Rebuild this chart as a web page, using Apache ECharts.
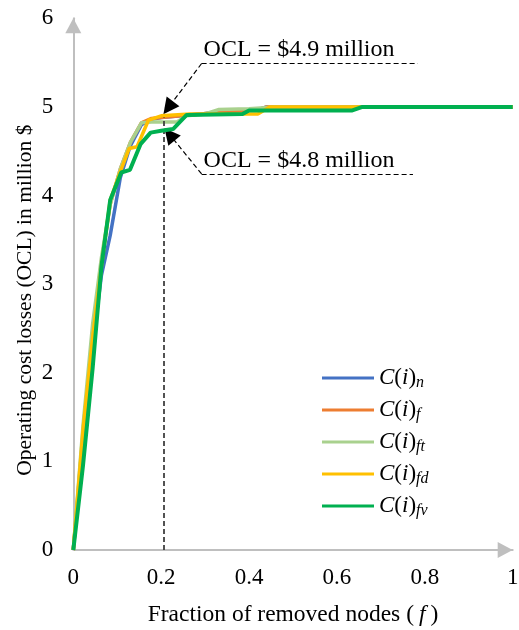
<!DOCTYPE html>
<html><head><meta charset="utf-8">
<script src="https://cdn.jsdelivr.net/npm/echarts@6/dist/echarts.min.js"></script>
<style>html,body{margin:0;padding:0;background:#fff}#c{width:519px;height:630px}</style>
</head><body><div id="c"></div>
<script>
// ---- data (fraction of removed nodes, OCL in million $) ----
var seriesNames = ['n', 'f', 'ft', 'fd', 'fv'];
var dataN  = [[0,0],[0.022,1.2],[0.044,2.3],[0.064,3.1],[0.084,3.55],[0.107,4.2],[0.129,4.55],[0.155,4.8],[0.178,4.86],[0.2,4.88],[0.244,4.9],[0.29,4.92],[0.356,4.95],[0.42,4.97],[0.44,5.0],[1,5.0]];
var dataF  = [[0,0],[0.022,1.3],[0.044,2.45],[0.064,3.25],[0.084,3.9],[0.107,4.3],[0.13,4.6],[0.155,4.82],[0.178,4.87],[0.2,4.88],[0.244,4.9],[0.29,4.92],[0.356,4.95],[0.42,4.97],[0.44,5.0],[1,5.0]];
var dataFT = [[0,0],[0.022,1.4],[0.044,2.55],[0.064,3.3],[0.084,3.9],[0.107,4.3],[0.13,4.6],[0.155,4.82],[0.178,4.83],[0.236,4.83],[0.258,4.9],[0.3,4.92],[0.33,4.97],[0.4,4.98],[0.46,5.0],[1,5.0]];
var dataFD = [[0,0],[0.022,1.35],[0.044,2.4],[0.064,3.2],[0.084,3.95],[0.107,4.27],[0.127,4.53],[0.145,4.55],[0.171,4.85],[0.2,4.9],[0.266,4.92],[0.42,4.92],[0.447,5.0],[1,5.0]];
var dataFV = [[0,0],[0.022,0.95],[0.044,2.05],[0.064,3.2],[0.084,3.95],[0.109,4.26],[0.129,4.29],[0.153,4.58],[0.176,4.71],[0.2,4.73],[0.227,4.75],[0.258,4.91],[0.385,4.92],[0.4,4.96],[0.635,4.96],[0.658,5.0],[1,5.0]];
var xTicks = [0, 0.2, 0.4, 0.6, 0.8, 1];
var yTicks = [0, 1, 2, 3, 4, 5, 6];
// annotations
var refX = 0.206;
var label49 = 'OCL = $4.9 million', label48 = 'OCL = $4.8 million';

var colors = ['#4472C4', '#ED7D31', '#A9D18E', '#FFC000', '#00B050'];
var allData = [dataN, dataF, dataFT, dataFD, dataFV];
var FONT = 'Liberation Serif';

var chart = echarts.init(document.getElementById('c'), null, {renderer: 'canvas'});
var series = allData.map(function (d, i) {
  return {
    name: seriesNames[i], type: 'line', data: d, showSymbol: false, symbol: 'none',
    lineStyle: {color: colors[i], width: i === 4 ? 4 : 3.5},
    itemStyle: {color: colors[i]}, z: 2 + i, animation: false
  };
});
var dash = {color: '#000', type: [5, 3], width: 1.2};
// helper series holding the annotation lines
series.push({
  name: 'annot', type: 'line', data: [], z: 20, silent: true,
  markLine: {
    silent: true, animation: false, symbol: ['none', 'triangle'], symbolSize: 16,
    label: {show: false},
    data: [
      [{coord: [refX, 0], symbol: 'none', lineStyle: {color: '#404040', type: [5, 3], width: 1.8}}, {coord: [refX, 4.9], symbol: 'none'}],
      [{coord: [0.292, 5.49], symbol: 'none', lineStyle: dash,
        label: {show: true, position: 'insideStartTop', formatter: label49, color: '#000', fontFamily: FONT, fontSize: 24, distance: [2, 2]}},
       {coord: [0.784, 5.49], symbol: 'none'}],
      [{coord: [0.292, 5.49], symbol: 'none', lineStyle: dash}, {coord: [0.216, 4.99]}],
      [{coord: [0.292, 4.244], symbol: 'none', lineStyle: dash,
        label: {show: true, position: 'insideStartTop', formatter: label48, color: '#000', fontFamily: FONT, fontSize: 24, distance: [2, 1]}},
       {coord: [0.773, 4.244], symbol: 'none'}],
      [{coord: [0.292, 4.244], symbol: 'none', lineStyle: dash}, {coord: [0.219, 4.69]}]
    ]
  }
});

var subs = {n: 'n', f: 'f', ft: 'ft', fd: 'fd', fv: 'fv'};
chart.setOption({
  animation: false,
  color: colors,
  grid: {left: 73.3, right: 6.3, top: 18.3, bottom: 80, containLabel: false, outerBoundsMode: 'none'},
  legend: {
    orient: 'vertical', left: 322, top: 365, padding: 0, icon: 'rect', itemWidth: 52, itemHeight: 3,
    itemGap: 6,
    data: seriesNames,
    formatter: function (name) { return '{c|C}{p|(}{c|i}{p|)}{s|' + subs[name] + '}'; },
    textStyle: {
      rich: {
        c: {fontFamily: FONT, fontStyle: 'italic', fontSize: 23, color: '#000', lineHeight: 26},
        p: {fontFamily: FONT, fontSize: 23, color: '#000', lineHeight: 26},
        s: {fontFamily: FONT, fontStyle: 'italic', fontSize: 16, color: '#000', lineHeight: 26, verticalAlign: 'bottom', padding: [10, 0, 0, 0]}
      }
    }
  },
  xAxis: {
    type: 'value', min: xTicks[0], max: xTicks[xTicks.length - 1], interval: 0.2,
    name: 'Fraction of removed nodes ({i|f})', nameLocation: 'middle', nameGap: 53, nameMoveOverlap: false,
    nameTextStyle: {fontFamily: FONT, fontSize: 23.5, color: '#000',
      rich: {i: {fontFamily: FONT, fontStyle: 'italic', fontSize: 23.5, color: '#000', padding: [0, 5, 0, 5]}}},
    axisLine: {lineStyle: {color: '#BFBFBF', width: 2}, symbol: ['none', 'triangle'], symbolSize: [16, 15], symbolOffset: [0, -7.5]},
    axisTick: {show: false},
    axisLabel: {fontFamily: FONT, fontSize: 23, color: '#000', margin: 16},
    splitLine: {show: false}
  },
  yAxis: {
    type: 'value', min: yTicks[0], max: yTicks[yTicks.length - 1], interval: 1,
    name: 'Operating cost losses (OCL) in million $', nameLocation: 'middle', nameGap: 37, nameMoveOverlap: false,
    nameTextStyle: {fontFamily: FONT, fontSize: 21.5, color: '#000', padding: [0, 32, 0, 0]},
    axisLine: {lineStyle: {color: '#BFBFBF', width: 2}, symbol: ['none', 'triangle'], symbolSize: [16, 15], symbolOffset: [0, -7.5]},
    axisTick: {show: false},
    axisLabel: {fontFamily: FONT, fontSize: 23, color: '#000', margin: 20},
    splitLine: {show: false}
  },
  series: series
});
</script></body></html>
